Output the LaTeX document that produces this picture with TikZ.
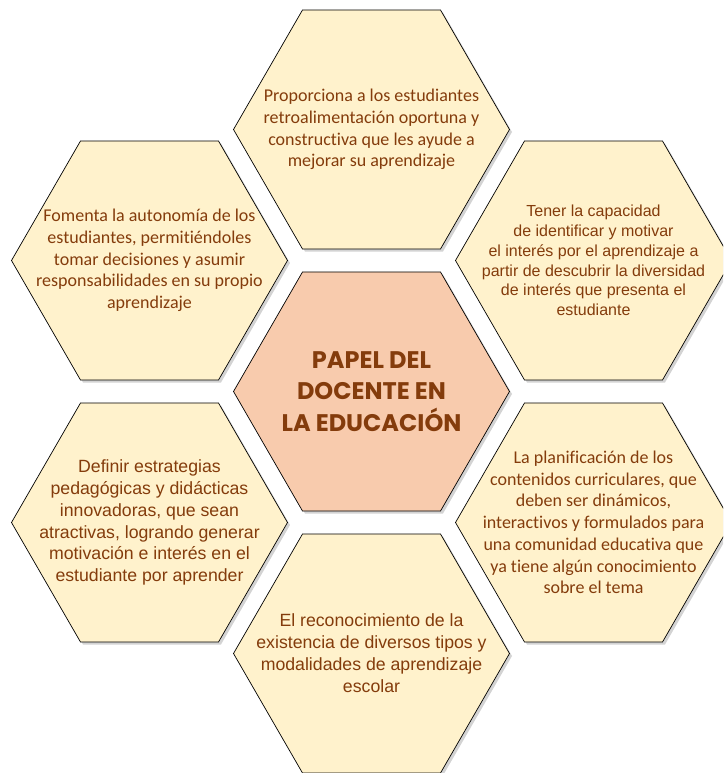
\documentclass[tikz,border=0pt]{standalone}
\usepackage{fontspec}
\setmainfont{Carlito}[Ligatures=NoCommon]
\newfontfamily\arialfont{Liberation Sans}
\newfontfamily\titlefont{Poppins}
\usetikzlibrary{shapes.geometric, shadows}

\definecolor{textbrown}{HTML}{843C0C}
\definecolor{cream}{HTML}{FFF2CC}
\definecolor{peach}{HTML}{F8CBAD}

\tikzset{
  hexa/.style={regular polygon, regular polygon sides=6, minimum size=276pt, inner sep=0pt,
    draw=black, line width=0.7pt, fill=cream,
    drop shadow={shadow xshift=2.5pt, shadow yshift=-2.5pt, opacity=0.35}},
  calibritext/.style={text=textbrown, align=center, font=\fontsize{18}{21.7}\selectfont},
  arialtext/.style={text=textbrown, align=center, font=\arialfont\fontsize{17.7}{21.9}\selectfont},
  titletext/.style={text=textbrown, align=center, font=\titlefont\bfseries\fontsize{24}{31.7}\selectfont}
}

\begin{document}
\begin{tikzpicture}[x=1pt, y=1pt]
	\def\dx{222};
	\def\dy{131};

	\useasboundingbox (-371.5,-381.5) rectangle (351.5,391.5);
	\clip (-371.5,-381.5) rectangle (351.5,391.5);

	\node[hexa] (top) at (0,2*\dy) {};
	\node[hexa] (upleft) at (-\dx,\dy) {};
	\node[hexa] (upright) at (\dx,\dy) {};
	\node[hexa] (lowleft) at (-\dx,-\dy) {};
	\node[hexa] (lowright) at (\dx,-\dy) {};
	\node[hexa] (bottom) at (0,-2*\dy) {};
	\node[hexa, fill=peach] (center) at (0,0) {};

	\node[titletext] (centertext) at (center.center) {PAPEL DEL\\DOCENTE EN\\LA EDUCACIÓN};

	\node[calibritext] (toptext) at (top.center) {Proporciona a los estudiantes\\retroalimentación oportuna y\\constructiva que les ayude a\\mejorar su aprendizaje};

	\node[calibritext] (uplefttext) at (upleft.center) {Fomenta la autonomía de los\\estudiantes, permitiéndoles\\tomar decisiones y asumir\\responsabilidades en su propio\\aprendizaje};

	\node[arialtext, font=\arialfont\fontsize{16}{19.8}\selectfont] (uprighttext) at (upright.center) {Tener la capacidad\\de identificar y motivar\\el interés por el aprendizaje a\\partir de descubrir la diversidad\\de interés que presenta el\\estudiante};

	\node[arialtext] (lowlefttext) at (lowleft.center) {Definir estrategias\\pedagógicas y didácticas\\innovadoras, que sean\\atractivas, logrando generar\\motivación e interés en el\\estudiante por aprender};

	\node[calibritext] (lowrighttext) at (lowright.center) {La planificación de los\\contenidos curriculares, que\\deben ser dinámicos,\\interactivos y formulados para\\una comunidad educativa que\\ya tiene algún conocimiento\\sobre el tema};

	\node[arialtext] (bottomtext) at (bottom.center) {El reconocimiento de la\\existencia de diversos tipos y\\modalidades de aprendizaje\\escolar};
\end{tikzpicture}
\end{document}
